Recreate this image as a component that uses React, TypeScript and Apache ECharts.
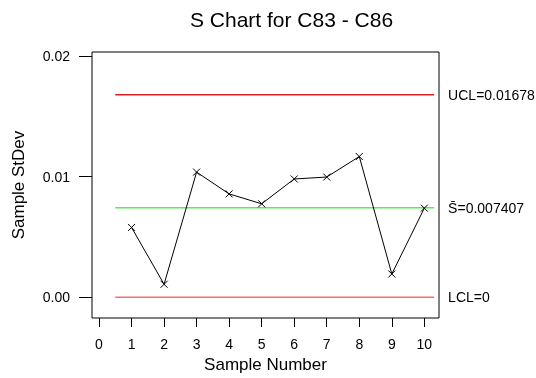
import React, { useEffect, useRef } from "react";
import * as echarts from "echarts";

const samples = [1, 2, 3, 4, 5, 6, 7, 8, 9, 10];
const stdevs = [0.00578, 0.00107, 0.01037, 0.00856, 0.00774, 0.0098, 0.00996, 0.01166, 0.00192, 0.00738];
const UCL = 0.01678;
const CENTER = 0.007407;
const LCL = 0;
const yTicks = [0, 0.01, 0.02];
const xTicks = [0, 1, 2, 3, 4, 5, 6, 7, 8, 9, 10];
const limitSpan = [0.5, 10.3];

export default function App() {
  const ref = useRef<HTMLDivElement>(null);
  useEffect(() => {
    if (!ref.current) return;
    const chart = echarts.init(ref.current, null, { renderer: "svg" });
    const font = "Liberation Sans, Arial, sans-serif";
    const limitLine = (name: string, val: number, color: string, label: string) => ({
      type: "line",
      name,
      data: limitSpan.map((x) => [x, val]),
      symbol: "none",
      lineStyle: { color, width: 1.5 },
      silent: true,
      endLabel: {
        show: true,
        formatter: label,
        distance: 14,
        color: "#000",
        fontSize: 14,
        fontFamily: font,
        align: "left",
        verticalAlign: "middle",
      },
    });
    chart.setOption({
      animation: false,
      textStyle: { fontFamily: font },
      title: {
        text: "S Chart for C83 - C86",
        left: 185,
        top: 4,
        textStyle: { fontSize: 21, fontWeight: "normal", color: "#000", fontFamily: font },
      },
      grid: {
        left: 92,
        right: 97,
        top: 52,
        bottom: 58,
        show: true,
        borderColor: "#000",
        borderWidth: 1,
        backgroundColor: "transparent",
      },
      xAxis: {
        type: "value",
        min: -0.215,
        max: 10.45,
        splitLine: { show: false },
        axisLine: { show: false, onZero: false },
        axisTick: { show: true, length: 9, customValues: xTicks, lineStyle: { color: "#000" } },
        axisLabel: { customValues: xTicks, margin: 19, fontSize: 14, color: "#000", fontFamily: font },
        name: "Sample Number",
        nameLocation: "middle",
        nameGap: 38,
        nameTextStyle: { fontSize: 17, color: "#000", fontFamily: font },
      },
      yAxis: {
        type: "value",
        min: -0.00173,
        max: 0.02033,
        splitLine: { show: false },
        axisLine: { show: false, onZero: false },
        axisTick: { show: true, length: 13, customValues: yTicks, lineStyle: { color: "#000" } },
        axisLabel: {
          customValues: yTicks,
          margin: 22,
          fontSize: 14,
          color: "#000",
          fontFamily: font,
          formatter: (v: number) => v.toFixed(2),
        },
        name: "Sample StDev",
        nameLocation: "middle",
        nameGap: 65,
        nameRotate: 90,
        nameTextStyle: { fontSize: 17, color: "#000", fontFamily: font },
      },
      series: [
        limitLine("UCL", UCL, "#d81e1e", "UCL=" + UCL),
        limitLine("Center", CENTER, "#55ee55", "S\u0304=" + CENTER),
        limitLine("LCL", LCL, "#ff6a6a", "LCL=" + LCL),
        {
          type: "line",
          name: "S",
          data: samples.map((s, i) => [s, stdevs[i]]),
          lineStyle: { color: "#000", width: 1 },
          symbol: "path://M0,0L10,10M10,0L0,10",
          symbolSize: 7,
          itemStyle: { color: "none", borderColor: "#000", borderWidth: 1 },
        },
      ],
    });
    return () => chart.dispose();
  }, []);
  return <div ref={ref} style={{ position: "fixed", left: 0, top: 0, width: 536, height: 378 }} />;
}
